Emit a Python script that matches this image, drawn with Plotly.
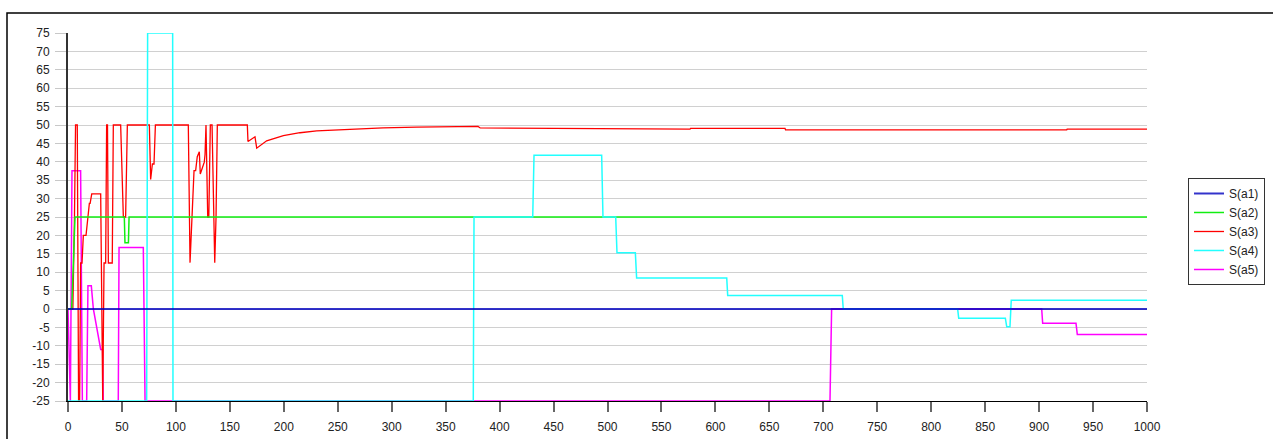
import plotly.graph_objects as go

# ---- series data (x = time step, y = score) ----
a1_x = [0, 1000]
a1_y = [0, 0]

a2_x = [0, 3.4, 6.5, 52.2, 52.8, 56.0, 56.6, 1000]
a2_y = [0, 0, 25, 25, 18, 18, 25, 25]

a3_x = [0, 4.5, 6.0, 7.0, 8.6, 9.8, 10.8, 11.7, 13.0, 14.2, 16.7, 18.2, 19.8, 20.5, 22.0,
        30.3, 31.5, 32.2, 33.4, 34.9, 35.8, 36.6, 37.4, 41.0, 42.0, 48.8, 51.3, 53.4, 55.0,
        75.4, 76.6, 78.2, 79.7, 81.0, 111.5, 113.1, 116.8, 118.3, 119.8, 121.7, 122.6,
        126.3, 127.0, 127.9, 129.5, 130.5, 131.9, 133.5, 136.0, 137.2, 138.4, 166.2,
        166.8, 173.3, 174.9, 184.1, 199.6, 215.0, 230.5, 261.4, 292.0, 323.0, 354.0,
        380.0, 382.0, 493.0, 566.3, 567.0, 576.5, 577.0, 639.8, 640.5, 644.4, 645.0,
        664.5, 665.0, 715.5, 716.0, 736.2, 737.0, 752.5, 753.0, 840.6, 841.0, 925.6,
        926.0, 1000]
a3_y = [0, 0, 25, 50, 50, -25, -25, 12.5, 12.5, 20.0, 20.0, 25.0, 28.7, 28.7, 31.3,
        31.3, -25, -25, 12.5, 12.5, 50, 50, 12.5, 12.5, 50, 50, 25, 25, 50,
        50, 35.2, 39.4, 39.4, 50, 50, 12.6, 37.6, 37.6, 41.4, 42.7, 36.7,
        39.9, 42.0, 50, 25, 25, 50, 50, 12.6, 25, 50, 50,
        45.5, 46.8, 43.7, 45.7, 47.1, 47.9, 48.4, 48.9, 49.2, 49.4, 49.6,
        49.6, 49.2, 49.1, 49.1, 48.9, 48.9, 49.1, 49.1, 48.9, 48.9, 49.1,
        49.1, 48.7, 48.7, 48.6, 48.6, 48.7, 48.7, 48.6, 48.6, 48.7, 48.7,
        48.9, 48.9]

a4_x = [0, 72.9, 73.8, 97.0, 97.3, 375.6, 376.3, 430.7, 431.9, 494.6, 495.8, 507.6,
        508.8, 525.8, 527.0, 610.5, 611.4, 717.6, 718.5, 824.5, 825.5, 868.7, 870.0,
        873.0, 874.2, 1000]
a4_y = [-25, -25, 75, 75, -25, -25, 25, 25, 41.8, 41.8, 25, 25,
        15.3, 15.3, 8.4, 8.4, 3.7, 3.7, 0, 0, -2.5, -2.5, -4.8,
        -4.8, 2.4, 2.4]

a5_x = [0, 1.5, 2.2, 3.7, 11.7, 13.3, 17.3, 18.5, 21.6, 23.5, 27.5, 28.5, 30.3, 32.1,
        32.7, 46.6, 47.3, 69.8, 71.4, 706.2, 707.7, 902.4, 903.3, 934.2, 935.4, 1000]
a5_y = [0, -25, -25, 37.6, 37.6, -25, -25, 6.3, 6.3, 0, -7, -8, -11, -11,
        -25, -25, 16.7, 16.7, -25, -25, 0, 0, -3.9, -3.9, -6.9, -6.9]

x_ticks = list(range(0, 1001, 50))
y_ticks = list(range(-25, 76, 5))

fig = go.Figure()

# drawing order: magenta, red, green, cyan, then the zero line on top
fig.add_trace(go.Scatter(x=a5_x, y=a5_y, mode="lines", name="S(a5)", legendrank=5,
                         line=dict(color="#ff00ff", width=1.5)))
fig.add_trace(go.Scatter(x=a3_x, y=a3_y, mode="lines", name="S(a3)", legendrank=3,
                         line=dict(color="#ff0000", width=1.3)))
fig.add_trace(go.Scatter(x=a2_x, y=a2_y, mode="lines", name="S(a2)", legendrank=2,
                         line=dict(color="#11ee11", width=1.5)))
fig.add_trace(go.Scatter(x=a4_x, y=a4_y, mode="lines", name="S(a4)", legendrank=4,
                         line=dict(color="#22ffff", width=1.5)))
fig.add_trace(go.Scatter(x=a1_x, y=a1_y, mode="lines", name="S(a1)", legendrank=1,
                         line=dict(color="rgba(0,0,190,0.8)", width=2)))

fig.update_layout(
    width=1273, height=439,
    margin=dict(l=68, r=126, t=33, b=38, autoexpand=False),
    paper_bgcolor="white", plot_bgcolor="white",
    font=dict(family="Liberation Sans, Arial, sans-serif", size=12, color="#222"),
    showlegend=True,
    legend=dict(x=1.038, y=0.606, xanchor="left", yanchor="top",
                bordercolor="#333", borderwidth=1, bgcolor="white",
                font=dict(size=12, color="#222"), itemwidth=30,
                tracegroupgap=0),
)

fig.update_xaxes(
    range=[0, 1000], tickvals=x_ticks, ticktext=[str(v) for v in x_ticks],
    showgrid=False, zeroline=False,
    showline=True, linecolor="black", linewidth=1,
    ticks="outside", ticklen=10, tickwidth=1.5, tickcolor="#666",
    ticklabelstandoff=5,
)
fig.update_yaxes(
    range=[-25, 75], tickvals=y_ticks, ticktext=[str(v) for v in y_ticks],
    showgrid=True, gridcolor="#d0d0d0", gridwidth=1.3, zeroline=False,
    showline=True, linecolor="#333", linewidth=2,
    ticks="outside", ticklen=11, tickwidth=1.3, tickcolor="#c8c8c8",
    ticklabelstandoff=3,
)

# outer frame around the chart
fig.add_shape(type="rect", xref="paper", yref="paper",
              x0=(7 - 68) / 1079, x1=1.2, y0=-0.3, y1=(401 - 13) / 368,
              line=dict(color="black", width=1.5), fillcolor="rgba(0,0,0,0)", layer="below")

fig.write_html("out.html")
